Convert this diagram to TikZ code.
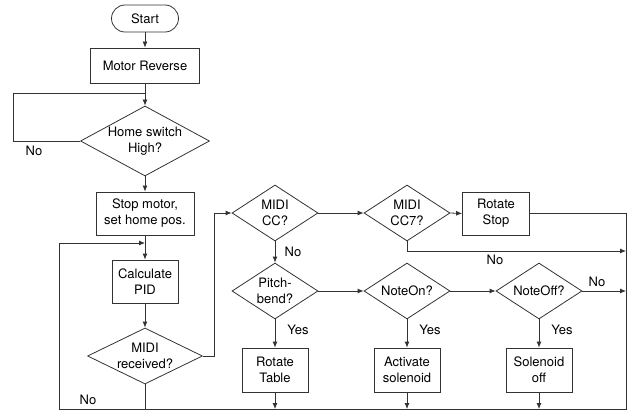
\documentclass[tikz,border=0pt]{standalone}
\usepackage{fontspec}
\setmainfont{TeX Gyre Heros}
\usetikzlibrary{shapes.geometric,arrows.meta}
\begin{document}
\begin{tikzpicture}[x=1pt,y=-1pt,
 font=\fontsize{13}{16}\selectfont,
 ln/.style={draw=black!80,line width=0.8pt},
 arr/.style={ln,-{Latex[length=6pt,width=5pt]}},
 box/.style={draw=black!80,line width=0.8pt,rectangle,inner sep=0pt,align=center},
 dia/.style={draw=black!80,line width=0.8pt,diamond,inner sep=0pt},
 lbl/.style={align=center,inner sep=0pt},
]
\useasboundingbox (0,0) rectangle (627,412);
% left column
\node[box,rounded corners=13.5pt,minimum width=67pt,minimum height=27pt] (start) at (145,18.5) {Start};
\node[box,minimum width=109pt,minimum height=35pt] (motor) at (145,65.5) {Motor Reverse};
\node[dia,minimum width=129pt,minimum height=70pt] (home) at (145,141) {};
\node[lbl] (homet) at (home) {Home switch\\High?};
\node[box,minimum width=98pt,minimum height=43pt] (stop) at (145,213.5) {Stop motor,\\set home pos.};
\node[box,minimum width=66pt,minimum height=43pt] (calc) at (145,281.5) {Calculate\\PID};
\node[dia,minimum width=115pt,minimum height=56pt] (midirec) at (145,356) {};
\node[lbl] (midirect) at (midirec) {MIDI\\received?};
% top row
\node[dia,minimum width=86pt,minimum height=56pt] (cc) at (275,213) {};
\node[lbl] (cct) at (cc) {MIDI\\CC?};
\node[dia,minimum width=86pt,minimum height=56pt] (cc7) at (407,213) {};
\node[lbl] (cc7t) at (cc7) {MIDI\\CC7?};
\node[box,minimum width=67pt,minimum height=43pt] (rstop) at (496,213.5) {Rotate\\Stop};
% middle row
\node[dia,minimum width=86pt,minimum height=56pt] (pitch) at (275,291) {};
\node[lbl] (pitcht) at (pitch) {Pitch-\\bend?};
\node[dia,minimum width=86pt,minimum height=56pt] (noteon) at (407,291) {};
\node[lbl] (noteont) at (noteon) {NoteOn?};
\node[dia,minimum width=86pt,minimum height=56pt] (noteoff) at (539,291) {};
\node[lbl] (noteofft) at (noteoff) {NoteOff?};
% bottom row
\node[box,minimum width=66pt,minimum height=44pt] (rtable) at (275,370) {Rotate\\Table};
\node[box,minimum width=66pt,minimum height=44pt] (activ) at (407,370) {Activate\\solenoid};
\node[box,minimum width=66pt,minimum height=44pt] (soloff) at (539,370) {Solenoid\\off};
% labels
\node[lbl] (no1) at (34,151) {No};
\node[lbl] (no2) at (88,400) {No};
\node[lbl] (no3) at (293,252) {No};
\node[lbl] (no4) at (495,260) {No};
\node[lbl] (no5) at (597,282) {No};
\node[lbl] (yes1) at (298,330) {Yes};
\node[lbl] (yes2) at (430,330) {Yes};
\node[lbl] (yes3) at (562,330) {Yes};
% coordinates
\coordinate (j1) at (145,93);
\coordinate (j2) at (145,243);
\coordinate (bl) at (59,409);
\coordinate (br) at (626,409);
\coordinate (r1) at (626,251);
\coordinate (r2) at (626,291);
% connectors
\draw[arr] (start) -- (motor);
\draw[arr] (motor.south) -- (home.north);
\draw[ln] (home.west) -- ++(-67,0) |- (j1);
\draw[arr] (home.south) -- (stop.north);
\draw[arr] (stop.south) -- (calc.north);
\draw[arr] (calc.south) -- (midirec.north);
\draw[ln] (midirec.south) -- (midirec.south |- bl);
\draw[arr] (rstop.east) -| (br) -- (bl) |- (j2);
\draw[arr] (midirec.east) -- ++(11,0) |- (cc.west);
\draw[arr] (cc.east) -- (cc7.west);
\draw[arr] (cc7.east) -- (rstop.west);
\draw[arr] (cc7.south) |- (r1);
\draw[arr] (cc.south) -- (pitch.north);
\draw[arr] (pitch.east) -- (noteon.west);
\draw[arr] (noteon.east) -- (noteoff.west);
\draw[arr] (noteoff.east) -- (r2);
\draw[arr] (pitch.south) -- (rtable.north);
\draw[arr] (noteon.south) -- (activ.north);
\draw[arr] (noteoff.south) -- (soloff.north);
\draw[arr] (rtable.south) -- (rtable.south |- br);
\draw[arr] (activ.south) -- (activ.south |- br);
\draw[arr] (soloff.south) -- (soloff.south |- br);
\end{tikzpicture}
\end{document}
